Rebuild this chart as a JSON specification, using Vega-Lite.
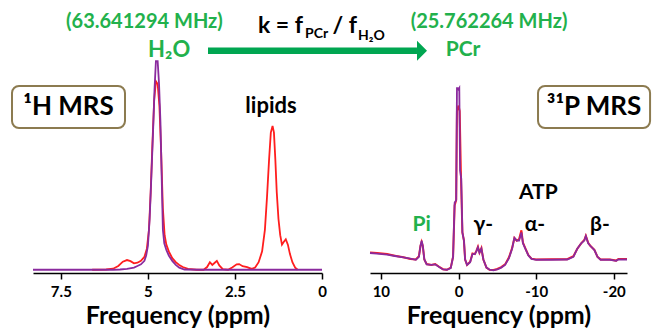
{
 "$schema": "https://vega.github.io/schema/vega-lite/v6.json",
 "background": "white",
 "padding": {"left": 11, "top": 3, "right": 0, "bottom": 0},
 "bounds": "flush",
 "spacing": 48,
 "config": {
  "view": {"stroke": null},
  "font": "Lato",
  "axis": {"grid": false, "domainColor": "black", "domainWidth": 1.5, "tickColor": "black", "tickWidth": 1.5, "tickSize": 6,
   "labelColor": "black", "labelFont": "Lato", "labelFontSize": 15, "labelFontWeight": "bold", "labelPadding": 5, "labelFlush": false,
   "titleFont": "Lato", "titleFontSize": 25, "titleFontWeight": "bold", "titleColor": "black", "titlePadding": 4},
  "text": {"font": "Lato", "fontWeight": "bold"}
 },
 "datasets": {
  "h1": [
   {"s":"R","ppm":6.6,"v":0.012},{"s":"R","ppm":6.2,"v":0.013},{"s":"R","ppm":6.0,"v":0.016},{"s":"R","ppm":5.85,"v":0.026},{"s":"R","ppm":5.72,"v":0.042},{"s":"R","ppm":5.6,"v":0.048},{"s":"R","ppm":5.5,"v":0.044},{"s":"R","ppm":5.4,"v":0.036},{"s":"R","ppm":5.3,"v":0.038},{"s":"R","ppm":5.2,"v":0.045},{"s":"R","ppm":5.1,"v":0.06},{"s":"R","ppm":5.03,"v":0.09},{"s":"R","ppm":4.97,"v":0.16},{"s":"R","ppm":4.92,"v":0.3},{"s":"R","ppm":4.87,"v":0.48},{"s":"R","ppm":4.82,"v":0.64},{"s":"R","ppm":4.77,"v":0.71},{"s":"R","ppm":4.72,"v":0.7},{"s":"R","ppm":4.67,"v":0.62},{"s":"R","ppm":4.62,"v":0.45},{"s":"R","ppm":4.57,"v":0.24},{"s":"R","ppm":4.52,"v":0.14},{"s":"R","ppm":4.47,"v":0.105},{"s":"R","ppm":4.4,"v":0.08},{"s":"R","ppm":4.3,"v":0.055},{"s":"R","ppm":4.2,"v":0.04},{"s":"R","ppm":4.1,"v":0.03},{"s":"R","ppm":4.0,"v":0.022},{"s":"R","ppm":3.85,"v":0.015},{"s":"R","ppm":3.6,"v":0.012},{"s":"R","ppm":3.4,"v":0.012},{"s":"R","ppm":3.3,"v":0.022},{"s":"R","ppm":3.22,"v":0.04},{"s":"R","ppm":3.15,"v":0.03},{"s":"R","ppm":3.08,"v":0.038},{"s":"R","ppm":3.02,"v":0.045},{"s":"R","ppm":2.95,"v":0.028},{"s":"R","ppm":2.85,"v":0.014},{"s":"R","ppm":2.7,"v":0.012},{"s":"R","ppm":2.58,"v":0.02},{"s":"R","ppm":2.45,"v":0.032},{"s":"R","ppm":2.38,"v":0.033},{"s":"R","ppm":2.28,"v":0.025},{"s":"R","ppm":2.15,"v":0.022},{"s":"R","ppm":2.02,"v":0.015},{"s":"R","ppm":1.92,"v":0.02},{"s":"R","ppm":1.82,"v":0.04},{"s":"R","ppm":1.72,"v":0.08},{"s":"R","ppm":1.64,"v":0.16},{"s":"R","ppm":1.58,"v":0.28},{"s":"R","ppm":1.52,"v":0.42},{"s":"R","ppm":1.47,"v":0.52},{"s":"R","ppm":1.42,"v":0.545},{"s":"R","ppm":1.38,"v":0.52},{"s":"R","ppm":1.34,"v":0.42},{"s":"R","ppm":1.3,"v":0.3},{"s":"R","ppm":1.25,"v":0.2},{"s":"R","ppm":1.2,"v":0.14},{"s":"R","ppm":1.15,"v":0.105},{"s":"R","ppm":1.1,"v":0.115},{"s":"R","ppm":1.04,"v":0.125},{"s":"R","ppm":0.98,"v":0.105},{"s":"R","ppm":0.92,"v":0.07},{"s":"R","ppm":0.85,"v":0.04},{"s":"R","ppm":0.77,"v":0.02},{"s":"R","ppm":0.7,"v":0.012},
   {"s":"P","ppm":8.3,"v":0.012},{"s":"P","ppm":7.0,"v":0.012},{"s":"P","ppm":6.0,"v":0.012},{"s":"P","ppm":5.8,"v":0.013},{"s":"P","ppm":5.6,"v":0.015},{"s":"P","ppm":5.4,"v":0.02},{"s":"P","ppm":5.3,"v":0.026},{"s":"P","ppm":5.2,"v":0.032},{"s":"P","ppm":5.1,"v":0.045},{"s":"P","ppm":5.05,"v":0.065},{"s":"P","ppm":5.0,"v":0.1},{"s":"P","ppm":4.95,"v":0.2},{"s":"P","ppm":4.9,"v":0.36},{"s":"P","ppm":4.85,"v":0.53},{"s":"P","ppm":4.81,"v":0.68},{"s":"P","ppm":4.77,"v":0.785},{"s":"P","ppm":4.72,"v":0.785},{"s":"P","ppm":4.68,"v":0.7},{"s":"P","ppm":4.64,"v":0.56},{"s":"P","ppm":4.6,"v":0.33},{"s":"P","ppm":4.57,"v":0.16},{"s":"P","ppm":4.53,"v":0.11},{"s":"P","ppm":4.47,"v":0.085},{"s":"P","ppm":4.4,"v":0.065},{"s":"P","ppm":4.3,"v":0.045},{"s":"P","ppm":4.2,"v":0.03},{"s":"P","ppm":4.1,"v":0.02},{"s":"P","ppm":3.95,"v":0.013},{"s":"P","ppm":3.5,"v":0.012},{"s":"P","ppm":2.0,"v":0.012},{"s":"P","ppm":0.0,"v":0.012}
  ],
  "p31": [
   {"s":"R","ppm":11.4,"v":0.076},{"s":"R","ppm":10.5,"v":0.074},{"s":"R","ppm":9.2,"v":0.07},{"s":"R","ppm":8.2,"v":0.064},{"s":"R","ppm":7.1,"v":0.058},{"s":"R","ppm":6.2,"v":0.052},{"s":"R","ppm":5.5,"v":0.05},{"s":"R","ppm":5.1,"v":0.062},{"s":"R","ppm":4.9,"v":0.1},{"s":"R","ppm":4.75,"v":0.115},{"s":"R","ppm":4.6,"v":0.1},{"s":"R","ppm":4.4,"v":0.05},{"s":"R","ppm":4.1,"v":0.033},{"s":"R","ppm":3.5,"v":0.03},{"s":"R","ppm":3.0,"v":0.033},{"s":"R","ppm":2.5,"v":0.023},{"s":"R","ppm":2.0,"v":0.014},{"s":"R","ppm":1.5,"v":0.012},{"s":"R","ppm":1.0,"v":0.02},{"s":"R","ppm":0.7,"v":0.06},{"s":"R","ppm":0.5,"v":0.25},{"s":"R","ppm":0.3,"v":0.27},{"s":"R","ppm":0.2,"v":0.6},{"s":"R","ppm":0.0,"v":0.62},{"s":"R","ppm":-0.15,"v":0.6},{"s":"R","ppm":-0.3,"v":0.38},{"s":"R","ppm":-0.5,"v":0.15},{"s":"R","ppm":-0.7,"v":0.12},{"s":"R","ppm":-0.85,"v":0.05},{"s":"R","ppm":-1.1,"v":0.03},{"s":"R","ppm":-1.5,"v":0.042},{"s":"R","ppm":-1.8,"v":0.072},{"s":"R","ppm":-2.1,"v":0.07},{"s":"R","ppm":-2.3,"v":0.082},{"s":"R","ppm":-2.5,"v":0.097},{"s":"R","ppm":-2.7,"v":0.075},{"s":"R","ppm":-2.95,"v":0.092},{"s":"R","ppm":-3.2,"v":0.05},{"s":"R","ppm":-3.6,"v":0.02},{"s":"R","ppm":-4.0,"v":0.012},{"s":"R","ppm":-4.5,"v":0.011},{"s":"R","ppm":-5.0,"v":0.015},{"s":"R","ppm":-5.5,"v":0.022},{"s":"R","ppm":-6.0,"v":0.032},{"s":"R","ppm":-6.5,"v":0.058},{"s":"R","ppm":-6.9,"v":0.092},{"s":"R","ppm":-7.2,"v":0.13},{"s":"R","ppm":-7.5,"v":0.12},{"s":"R","ppm":-7.8,"v":0.125},{"s":"R","ppm":-8.1,"v":0.158},{"s":"R","ppm":-8.3,"v":0.112},{"s":"R","ppm":-8.6,"v":0.092},{"s":"R","ppm":-9.0,"v":0.066},{"s":"R","ppm":-9.4,"v":0.053},{"s":"R","ppm":-10.0,"v":0.05},{"s":"R","ppm":-12.0,"v":0.051},{"s":"R","ppm":-14.0,"v":0.051},{"s":"R","ppm":-14.8,"v":0.062},{"s":"R","ppm":-15.3,"v":0.09},{"s":"R","ppm":-15.8,"v":0.11},{"s":"R","ppm":-16.2,"v":0.122},{"s":"R","ppm":-16.4,"v":0.138},{"s":"R","ppm":-16.7,"v":0.112},{"s":"R","ppm":-17.0,"v":0.1},{"s":"R","ppm":-17.5,"v":0.086},{"s":"R","ppm":-17.9,"v":0.06},{"s":"R","ppm":-18.3,"v":0.05},{"s":"R","ppm":-19.5,"v":0.05},{"s":"R","ppm":-20.3,"v":0.046},{"s":"R","ppm":-20.6,"v":0.052},{"s":"R","ppm":-21.7,"v":0.052},
   {"s":"P","ppm":11.4,"v":0.074},{"s":"P","ppm":10.5,"v":0.072},{"s":"P","ppm":9.2,"v":0.068},{"s":"P","ppm":8.2,"v":0.063},{"s":"P","ppm":7.1,"v":0.058},{"s":"P","ppm":6.2,"v":0.053},{"s":"P","ppm":5.5,"v":0.049},{"s":"P","ppm":5.1,"v":0.06},{"s":"P","ppm":4.9,"v":0.1},{"s":"P","ppm":4.75,"v":0.12},{"s":"P","ppm":4.6,"v":0.1},{"s":"P","ppm":4.4,"v":0.05},{"s":"P","ppm":4.1,"v":0.032},{"s":"P","ppm":3.5,"v":0.03},{"s":"P","ppm":3.0,"v":0.032},{"s":"P","ppm":2.5,"v":0.022},{"s":"P","ppm":2.0,"v":0.013},{"s":"P","ppm":1.5,"v":0.012},{"s":"P","ppm":1.0,"v":0.018},{"s":"P","ppm":0.7,"v":0.06},{"s":"P","ppm":0.5,"v":0.26},{"s":"P","ppm":0.3,"v":0.27},{"s":"P","ppm":0.2,"v":0.685},{"s":"P","ppm":0.1,"v":0.685},{"s":"P","ppm":0.0,"v":0.68},{"s":"P","ppm":-0.1,"v":0.685},{"s":"P","ppm":-0.2,"v":0.38},{"s":"P","ppm":-0.35,"v":0.35},{"s":"P","ppm":-0.5,"v":0.15},{"s":"P","ppm":-0.7,"v":0.12},{"s":"P","ppm":-0.85,"v":0.05},{"s":"P","ppm":-1.1,"v":0.03},{"s":"P","ppm":-1.5,"v":0.04},{"s":"P","ppm":-1.8,"v":0.07},{"s":"P","ppm":-2.1,"v":0.07},{"s":"P","ppm":-2.3,"v":0.08},{"s":"P","ppm":-2.5,"v":0.095},{"s":"P","ppm":-2.7,"v":0.075},{"s":"P","ppm":-2.95,"v":0.09},{"s":"P","ppm":-3.2,"v":0.05},{"s":"P","ppm":-3.6,"v":0.02},{"s":"P","ppm":-4.0,"v":0.012},{"s":"P","ppm":-4.5,"v":0.01},{"s":"P","ppm":-5.0,"v":0.013},{"s":"P","ppm":-5.5,"v":0.02},{"s":"P","ppm":-6.0,"v":0.03},{"s":"P","ppm":-6.5,"v":0.055},{"s":"P","ppm":-6.9,"v":0.09},{"s":"P","ppm":-7.2,"v":0.13},{"s":"P","ppm":-7.5,"v":0.12},{"s":"P","ppm":-7.8,"v":0.12},{"s":"P","ppm":-8.1,"v":0.15},{"s":"P","ppm":-8.3,"v":0.11},{"s":"P","ppm":-8.6,"v":0.09},{"s":"P","ppm":-9.0,"v":0.065},{"s":"P","ppm":-9.4,"v":0.052},{"s":"P","ppm":-10.0,"v":0.049},{"s":"P","ppm":-12.0,"v":0.049},{"s":"P","ppm":-14.0,"v":0.05},{"s":"P","ppm":-14.8,"v":0.06},{"s":"P","ppm":-15.3,"v":0.09},{"s":"P","ppm":-15.8,"v":0.11},{"s":"P","ppm":-16.2,"v":0.12},{"s":"P","ppm":-16.4,"v":0.137},{"s":"P","ppm":-16.7,"v":0.11},{"s":"P","ppm":-17.0,"v":0.1},{"s":"P","ppm":-17.5,"v":0.085},{"s":"P","ppm":-17.9,"v":0.06},{"s":"P","ppm":-18.3,"v":0.049},{"s":"P","ppm":-19.5,"v":0.049},{"s":"P","ppm":-20.3,"v":0.045},{"s":"P","ppm":-20.6,"v":0.05},{"s":"P","ppm":-21.7,"v":0.05}
  ]
 },
 "hconcat": [
  {
   "width": 289, "height": 270,
   "encoding": {
    "x": {"field": "ppm", "type": "quantitative", "scale": {"domain": [0, 8.3], "reverse": true, "nice": false, "zero": false},
     "axis": {"values": [7.5, 5, 2.5, 0], "labelExpr": "'' + datum.value", "title": "Frequency (ppm)"}},
    "y": {"field": "v", "type": "quantitative", "scale": {"domain": [0, 1], "nice": false, "zero": false}, "axis": null}
   },
   "layer": [
    {"data": {"name": "h1"}, "transform": [{"filter": "datum.s == 'R'"}], "mark": {"type": "line", "color": "#ff1e1e", "strokeWidth": 1.8}},
    {"data": {"name": "h1"}, "transform": [{"filter": "datum.s == 'P'"}], "mark": {"type": "line", "color": "#8a2a9e", "strokeWidth": 1.8}},
    {"data": {"values": [{"ppm": 8.903, "ppm2": 5.658, "v": 0.537, "v2": 0.693}]},
     "mark": {"type": "rect", "fill": "white", "stroke": "#8c7b50", "strokeWidth": 2, "cornerRadius": 7},
     "encoding": {"x2": {"field": "ppm2"}, "y2": {"field": "v2"}}},
    {"data": {"values": [{"ppm": 7.28, "v": 0.615, "label": "¹H MRS"}]},
     "mark": {"type": "text", "fontSize": 26, "color": "black"}, "encoding": {"text": {"field": "label"}}},
    {"data": {"values": [{"ppm": 1.465, "v": 0.619, "label": "lipids"}]},
     "mark": {"type": "text", "fontSize": 22, "color": "black"}, "encoding": {"text": {"field": "label"}}},
    {"data": {"values": [{"ppm": 5.10, "v": 0.93, "label": "(63.641294 MHz)"}]},
     "mark": {"type": "text", "fontSize": 20, "color": "#22b14c"}, "encoding": {"text": {"field": "label"}}},
    {"data": {"values": [{"ppm": 4.39, "v": 0.826, "label": "H₂O"}]},
     "mark": {"type": "text", "fontSize": 22, "color": "#22b14c"}, "encoding": {"text": {"field": "label"}}},
    {"data": {"values": [{"ppm": 3.274, "ppm2": -2.728, "v": 0.823}]},
     "mark": {"type": "rule", "color": "#00a651", "strokeWidth": 6.5}, "encoding": {"x2": {"field": "ppm2"}}},
    {"data": {"values": [{"ppm": -2.872, "v": 0.823}]},
     "mark": {"type": "point", "shape": "M-0.5,-1L0.5,0L-0.5,1Z", "size": 400, "filled": true, "color": "#00a651", "opacity": 1}},
    {"data": {"values": [{"ppm": 0.546, "v": 0.889, "label": "k = f"}, {"ppm": -1.005, "v": 0.889, "label": "/ f"}]},
     "mark": {"type": "text", "fontSize": 23, "color": "black", "align": "right", "baseline": "alphabetic"}, "encoding": {"text": {"field": "label"}}},
    {"data": {"values": [{"ppm": 0.488, "v": 0.872, "label": "PCr"}, {"ppm": -1.034, "v": 0.864, "label": "H₂O"}]},
     "mark": {"type": "text", "fontSize": 14, "color": "black", "align": "left", "baseline": "alphabetic"}, "encoding": {"text": {"field": "label"}}}
   ]
  },
  {
   "width": 257, "height": 270,
   "encoding": {
    "x": {"field": "ppm", "type": "quantitative", "scale": {"domain": [-21.7, 11.4], "reverse": true, "nice": false, "zero": false},
     "axis": {"values": [10, 0, -10, -20], "labelExpr": "'' + datum.value", "title": "Frequency (ppm)"}},
    "y": {"field": "v", "type": "quantitative", "scale": {"domain": [0, 1], "nice": false, "zero": false}, "axis": null}
   },
   "layer": [
    {"data": {"name": "p31"}, "transform": [{"filter": "datum.s == 'R'"}], "mark": {"type": "line", "color": "#ff1e1e", "strokeWidth": 2}},
    {"data": {"name": "p31"}, "transform": [{"filter": "datum.s == 'P'"}], "mark": {"type": "line", "color": "#8a2a9e", "strokeWidth": 1.8}},
    {"data": {"values": [{"ppm": -10.24, "ppm2": -24.67, "v": 0.537, "v2": 0.693}]},
     "mark": {"type": "rect", "fill": "white", "stroke": "#8c7b50", "strokeWidth": 2, "cornerRadius": 7},
     "encoding": {"x2": {"field": "ppm2"}, "y2": {"field": "v2"}}},
    {"data": {"values": [{"ppm": -17.45, "v": 0.615, "label": "³¹P MRS"}]},
     "mark": {"type": "text", "fontSize": 26, "color": "black"}, "encoding": {"text": {"field": "label"}}},
    {"data": {"values": [{"ppm": -3.19, "v": 0.179, "label": "γ-"}, {"ppm": -10.28, "v": 0.296, "label": "ATP"}, {"ppm": -9.85, "v": 0.179, "label": "α-"}, {"ppm": -18.22, "v": 0.179, "label": "β-"}]},
     "mark": {"type": "text", "fontSize": 21, "color": "black"}, "encoding": {"text": {"field": "label"}}},
    {"data": {"values": [{"ppm": 4.74, "v": 0.179, "label": "Pi"}]},
     "mark": {"type": "text", "fontSize": 21, "color": "#22b14c"}, "encoding": {"text": {"field": "label"}}},
    {"data": {"values": [{"ppm": -3.93, "v": 0.93, "label": "(25.762264 MHz)"}]},
     "mark": {"type": "text", "fontSize": 20, "color": "#22b14c"}, "encoding": {"text": {"field": "label"}}},
    {"data": {"values": [{"ppm": -0.578, "v": 0.826, "label": "PCr"}]},
     "mark": {"type": "text", "fontSize": 21, "color": "#22b14c"}, "encoding": {"text": {"field": "label"}}}
   ]
  }
 ]
}
